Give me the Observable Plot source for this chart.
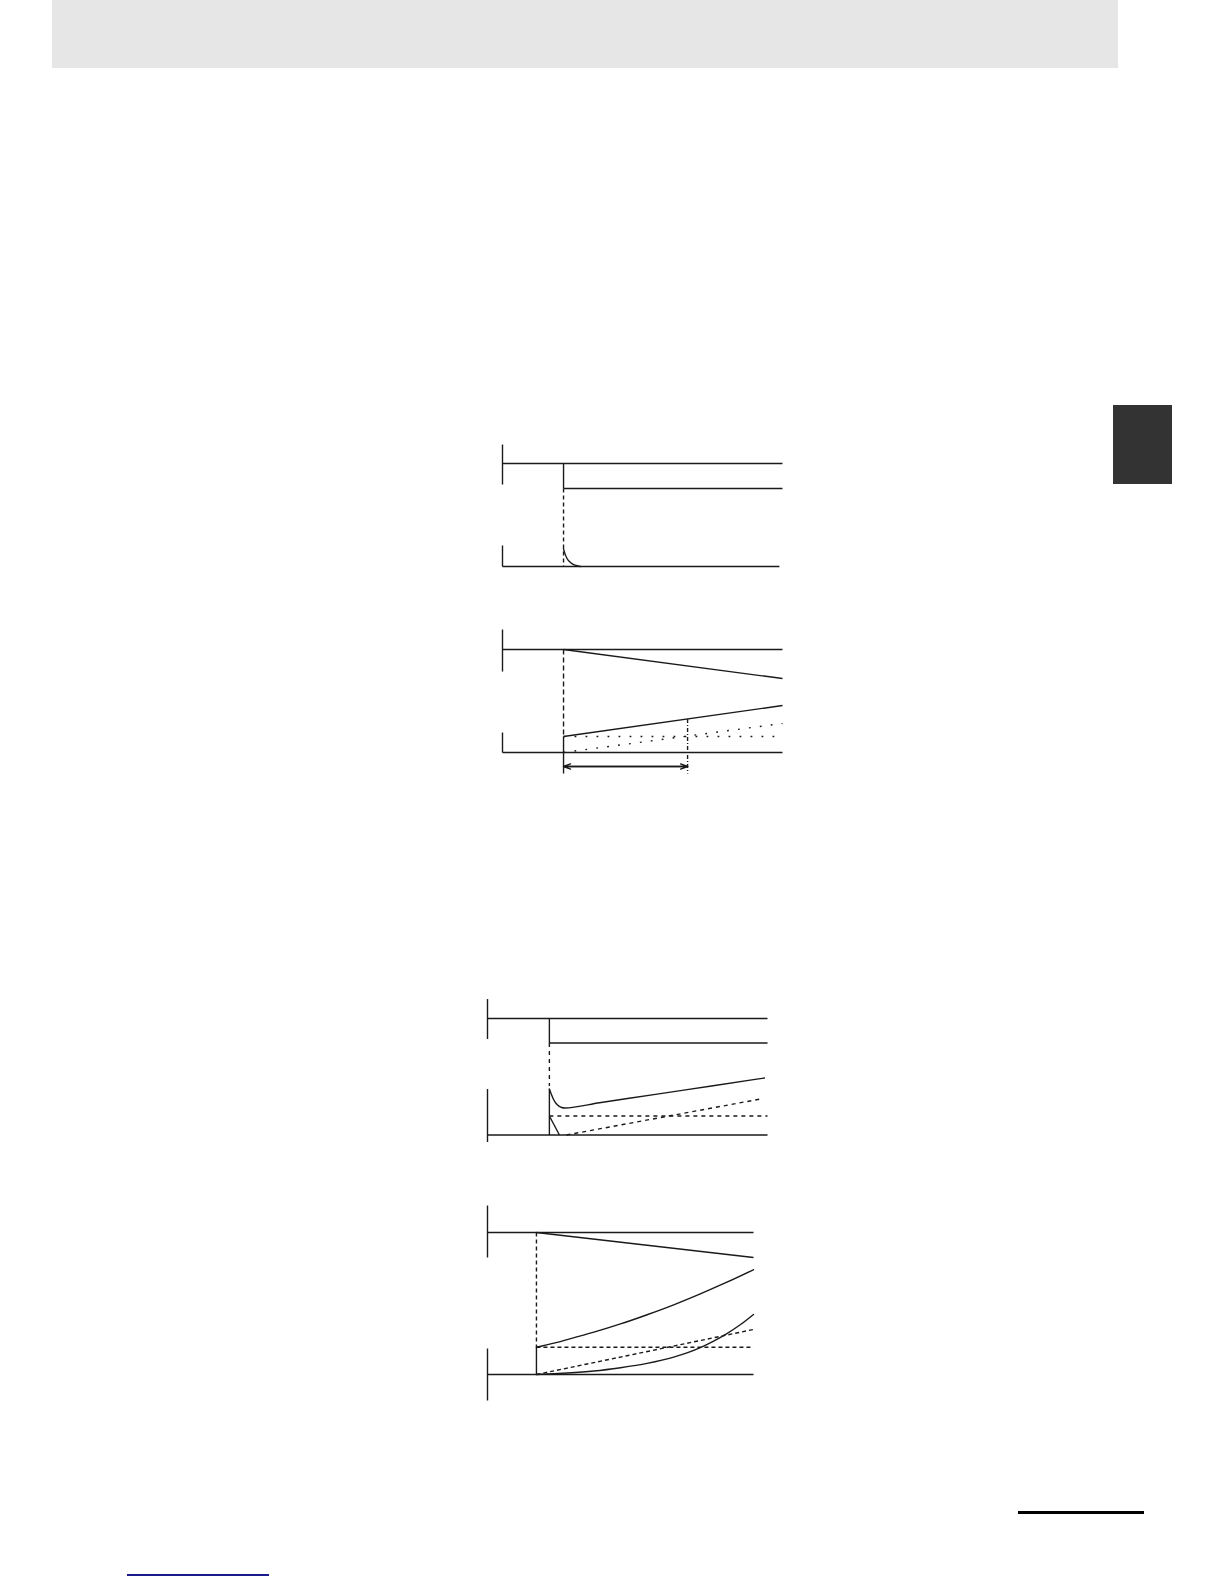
<!DOCTYPE html>
<html>
<head>
<meta charset="utf-8">
<script src="https://cdn.jsdelivr.net/npm/d3@7"></script>
<script src="https://cdn.jsdelivr.net/npm/@observablehq/plot@0.6"></script>
<style>
  html, body { margin: 0; padding: 0; background: #fff; }
  #page { position: relative; width: 1224px; height: 1584px; overflow: hidden; font-family: "Liberation Sans", Arial, sans-serif; }
  .deco { position: absolute; }
  .chart { position: absolute; }
  .chart svg { overflow: visible; }
</style>
</head>
<body>
<div id="page">
  <div class="deco" style="left:52px;top:0;width:1066px;height:68px;background:#e6e6e6;"></div>
  <div class="deco" style="left:1113px;top:405px;width:59px;height:79px;background:#333333;"></div>
  <div class="deco" style="left:1018px;top:1511px;width:126px;height:3px;background:#000;"></div>
  <div class="deco" style="left:127px;top:1574px;width:142px;height:2px;background:#1a1a8c;"></div>
</div>
<script>
// ---------- DATA (time t: 0 = left axis, 100 = right end; level v: 0 = baseline, 100 = upper line) ----------

// Chart A: step, short decay
const aAxisTicks = [{x1:0,y1:79.6,x2:0,y2:118.4},{x1:0,y1:0,x2:0,y2:20.4}];
const aSolid = [
  {x1:0,y1:100,x2:100,y2:100},
  {x1:21.8,y1:100,x2:21.8,y2:75.7},
  {x1:21.8,y1:75.7,x2:100,y2:75.7},
  {x1:0,y1:0,x2:98.9,y2:0}
];
const aDashed = [{x1:21.8,y1:75.7,x2:21.8,y2:0}];
const aDecay = [
  {t:21.8,v:17.2},{t:22.3,v:12.5},{t:23.1,v:7.5},{t:24.0,v:4.5},
  {t:24.9,v:2.6},{t:26.3,v:1.0},{t:27.9,v:0}
];

// Chart B: ramp, with interval arrow
const bAxisTicks = [{x1:0,y1:78.6,x2:0,y2:119.4},{x1:0,y1:0,x2:0,y2:19.4}];
const bSolid = [
  {x1:0,y1:100,x2:100,y2:100},
  {x1:21.8,y1:100,x2:100,y2:71.8},
  {x1:21.8,y1:15.5,x2:100,y2:45.6},
  {x1:21.8,y1:15.5,x2:21.8,y2:-20.4},
  {x1:0,y1:0,x2:100,y2:0}
];
const bDashed = [{x1:21.8,y1:100,x2:21.8,y2:15.5}];
const bDotted = [
  {x1:21.8,y1:15.5,x2:100,y2:15.5},
  {x1:21.8,y1:0,x2:100,y2:28.2}
];
const bDashDot = [{x1:66.1,y1:32.5,x2:66.1,y2:-20.4}];
const bArrow = [{x1:21.8,y1:-13.6,x2:66.1,y2:-13.6}];

// Chart C: step with dip and linear rise
const cAxisTicks = [{x1:0,y1:82.4,x2:0,y2:116.7},{x1:0,y1:-6,x2:0,y2:39.5}];
const cSolid = [
  {x1:0,y1:100,x2:100,y2:100},
  {x1:22.1,y1:100,x2:22.1,y2:79},
  {x1:22.1,y1:79,x2:100,y2:79},
  {x1:22.1,y1:39.5,x2:22.1,y2:0},
  {x1:22.1,y1:16.3,x2:25.7,y2:0},
  {x1:0,y1:0,x2:100,y2:0}
];
const cDashed = [
  {x1:22.1,y1:79,x2:22.1,y2:42},
  {x1:22.1,y1:16.3,x2:100,y2:16.3},
  {x1:28.2,y1:0,x2:97.5,y2:30.9}
];
const cResponse = [
  {t:22.1,v:39.5},{t:22.8,v:35},{t:23.6,v:30.5},{t:24.5,v:27},{t:25.5,v:24.8},
  {t:26.5,v:23.6},{t:27.5,v:23.2},{t:40,v:27.7},{t:60,v:34.9},{t:80,v:42.1},{t:98.9,v:48.9}
];

// Chart D: ramp with accelerating curves
const dAxisTicks = [{x1:0,y1:82.4,x2:0,y2:119},{x1:0,y1:-18.3,x2:0,y2:18.3}];
const dSolid = [
  {x1:0,y1:100,x2:100,y2:100},
  {x1:18.4,y1:100,x2:100,y2:82.4},
  {x1:18.4,y1:19.2,x2:18.4,y2:0},
  {x1:0,y1:0,x2:100,y2:0}
];
const dDashed = [
  {x1:18.4,y1:100,x2:18.4,y2:19.2},
  {x1:18.4,y1:19.2,x2:100,y2:19.2},
  {x1:18.4,y1:0,x2:100,y2:31.7}
];
const dUpper = [
  {t:18.4,v:19.2},{t:25,v:22.1},{t:30,v:24.6},{t:40,v:29.8},{t:50,v:35.6},
  {t:60,v:42.1},{t:70,v:49.1},{t:80,v:56.8},{t:90,v:65.0},{t:100,v:73.8}
];
const dLower = [
  {t:18.4,v:0},{t:25,v:0.6},{t:30,v:1.1},{t:40,v:2.5},{t:50,v:4.8},{t:60,v:7.8},
  {t:70,v:12.2},{t:80,v:18.9},{t:85,v:23.5},{t:90,v:28.8},{t:95,v:35},{t:100,v:42.3}
];

// ---------- LAYOUT (pixel frame of each diagram on the page) ----------
const layout = {
  A: {left:502, right:782, top:463, base:566},
  B: {left:502, right:782, top:649, base:752},
  C: {left:487, right:767, top:1017.5, base:1134},
  D: {left:487, right:753, top:1232, base:1374}
};

const INK = "#1a1a1a";
const SW = 1.4;
const pad = 40;

function seg(data, extra = {}) {
  return Plot.link(data, {x1:"x1", y1:"y1", x2:"x2", y2:"y2", stroke: INK, strokeWidth: SW, ...extra});
}
function curve(data, extra = {}) {
  return Plot.line(data, {x:"t", y:"v", stroke: INK, strokeWidth: SW, curve:"monotone-x", ...extra});
}

function draw(key, marks) {
  const L = layout[key];
  const w = L.right - L.left, h = L.base - L.top;
  const svg = Plot.plot({
    width: w + 2*pad,
    height: h + 2*pad,
    margin: 0,
    x: {domain:[0,100], range:[pad, pad + w], axis: null},
    y: {domain:[0,100], range:[pad + h, pad], axis: null},
    style: {background: "transparent", overflow: "visible"},
    marks
  });
  const div = document.createElement("div");
  div.className = "chart";
  div.style.left = (L.left - pad) + "px";
  div.style.top = (L.top - pad) + "px";
  div.appendChild(svg);
  document.getElementById("page").appendChild(div);
}

draw("A", [
  seg(aAxisTicks),
  seg(aSolid),
  seg(aDashed, {strokeDasharray:"4,3"}),
  curve(aDecay)
]);

draw("B", [
  seg(bAxisTicks),
  seg(bSolid),
  seg(bDashed, {strokeDasharray:"5,3"}),
  seg(bDotted, {strokeDasharray:"1.8,9.2"}),
  seg(bDashDot, {strokeDasharray:"4,2,1,2"}),
  Plot.arrow(bArrow, {x1:"x1", y1:"y1", x2:"x2", y2:"y2", stroke: INK, strokeWidth: SW, headLength: 8, headAngle: 40}),
  Plot.arrow(bArrow, {x1:"x2", y1:"y2", x2:"x1", y2:"y1", stroke: INK, strokeWidth: SW, headLength: 8, headAngle: 40})
]);

draw("C", [
  seg(cAxisTicks),
  seg(cSolid),
  seg(cDashed, {strokeDasharray:"4,4"}),
  curve(cResponse)
]);

draw("D", [
  seg(dAxisTicks),
  seg(dSolid),
  seg(dDashed, {strokeDasharray:"4,3"}),
  curve(dUpper),
  curve(dLower)
]);
</script>
</body>
</html>
